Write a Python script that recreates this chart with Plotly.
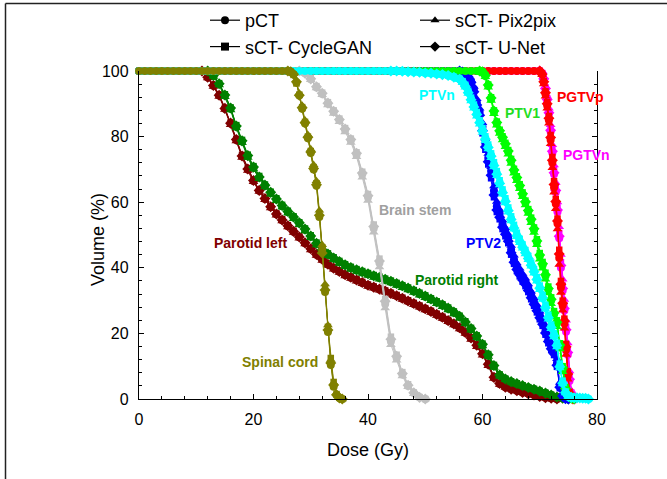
import plotly.graph_objects as go

# ---------------- data ----------------
series_names = ["pCT", "sCT- CycleGAN", "sCT- Pix2pix", "sCT- U-Net"]
series_symbols = ["circle", "square", "triangle-up", "diamond"]
x_ticks = [0, 20, 40, 60, 80]
y_ticks = [0, 20, 40, 60, 80, 100]

# shared 100 % plateau (dose in Gy)
flat_dose = [0, 1, 2, 3, 4, 5, 6, 7, 8, 9, 10, 11, 12, 13, 14, 15, 16, 17, 18, 19,
             20, 21, 22, 23, 24, 25, 26, 27, 28, 29, 30, 31, 32, 33, 34, 35, 36, 37, 38, 39,
             40, 41, 42, 43, 44, 45, 46, 47, 48, 49, 50, 51, 52, 53, 54, 55, 56, 57, 58, 59,
             60, 61, 62, 63, 64, 65, 66, 67, 68, 69, 70]
flat_vol = [100, 100, 100, 100, 100, 100, 100, 100, 100, 100, 100, 100, 100, 100, 100, 100, 100, 100, 100, 100,
            100, 100, 100, 100, 100, 100, 100, 100, 100, 100, 100, 100, 100, 100, 100, 100, 100, 100, 100, 100,
            100, 100, 100, 100, 100, 100, 100, 100, 100, 100, 100, 100, 100, 100, 100, 100, 100, 100, 100, 100,
            100, 100, 100, 100, 100, 100, 100, 100, 100, 100, 100]

# Parotid left
pl_dose = [11, 12, 13, 14, 15, 16, 17, 18, 19, 20, 21, 22, 23, 24, 25, 26, 27, 28, 29, 30,
           31, 32, 33, 34, 35, 36, 37, 38, 39, 40, 41, 42, 43, 44, 45, 46, 47, 48, 49, 50,
           51, 52, 53, 54, 55, 56, 57, 58, 59, 60, 61, 62, 63, 64, 65, 66, 67, 68, 69, 70,
           71, 72, 73]
pl_pct = [100, 98, 95.5, 92.5, 88.5, 84, 79, 74, 70, 66.5, 63.5, 61, 58.5, 56.3, 54.5, 52.7, 51, 49.3, 47.5, 45.7,
          44, 42.5, 41, 39.8, 38.8, 37.8, 37, 36.2, 35.4, 34.6, 34, 33.4, 32.8, 32.1, 31.4, 30.6, 29.8, 29, 28.2, 27.4,
          26.6, 25.7, 24.8, 23.8, 22.8, 21.6, 20.2, 18.5, 16.3, 13.7, 10.5, 6.5, 4.6, 3.6, 3, 2.5, 2, 1.6, 1.2, 0.8,
          0.4, 0.2, 0]
pl_cyc = [100, 98.2, 95.8, 92.8, 88.8, 84.3, 79.3, 74.4, 70.4, 66.8, 63.8, 61.3, 58.8, 56.6, 54.8, 53, 51.3, 49.6, 47.8, 46,
          44.3, 42.8, 41.3, 40.1, 39.1, 38.1, 37.3, 36.5, 35.7, 34.9, 34.3, 33.7, 33.1, 32.4, 31.7, 30.9, 30.1, 29.3, 28.5, 27.7,
          26.9, 26, 25.1, 24.1, 23.1, 21.9, 20.5, 18.8, 16.6, 14, 10.9, 6.9, 4.8, 3.7, 3.1, 2.6, 2.1, 1.7, 1.3, 0.9,
          0.5, 0.2, 0]
pl_pix = [100, 97.8, 95.2, 92.2, 88.2, 83.6, 78.6, 73.6, 69.6, 66.2, 63.2, 60.7, 58.2, 56, 54.2, 52.4, 50.7, 49, 47.2, 45.4,
          43.7, 42.2, 40.7, 39.5, 38.5, 37.5, 36.7, 35.9, 35.1, 34.3, 33.7, 33.1, 32.5, 31.8, 31.1, 30.3, 29.5, 28.7, 27.9, 27.1,
          26.3, 25.4, 24.5, 23.5, 22.5, 21.3, 19.9, 18.1, 15.9, 13.3, 10.1, 6.2, 4.4, 3.5, 2.9, 2.4, 1.9, 1.5, 1.1, 0.7,
          0.3, 0.1, 0]
pl_unet = [100, 98.1, 95.6, 92.6, 88.6, 84.1, 79.1, 74.1, 70.1, 66.6, 63.6, 61.1, 58.6, 56.4, 54.6, 52.8, 51.1, 49.4, 47.6, 45.8,
           44.1, 42.6, 41.1, 39.9, 38.9, 37.9, 37.1, 36.3, 35.5, 34.7, 34.1, 33.5, 32.9, 32.2, 31.5, 30.7, 29.9, 29.1, 28.3, 27.5,
           26.7, 25.8, 24.9, 23.9, 22.9, 21.7, 20.3, 18.6, 16.4, 13.8, 10.6, 6.6, 4.7, 3.6, 3, 2.5, 2, 1.6, 1.2, 0.8,
           0.4, 0.2, 0]

# Parotid right
pr_dose = [12, 13, 14, 15, 16, 17, 18, 19, 20, 21, 22, 23, 24, 25, 26, 27, 28, 29, 30, 31,
           32, 33, 34, 35, 36, 37, 38, 39, 40, 41, 42, 43, 44, 45, 46, 47, 48, 49, 50, 51,
           52, 53, 54, 55, 56, 57, 58, 59, 60, 61, 62, 63, 64, 65, 66, 67, 68, 69, 70, 71,
           72, 73, 74, 75]
pr_pct = [100, 98.5, 96, 92.5, 88.5, 83, 78.5, 74, 70.5, 67.5, 65, 62.8, 60.8, 58.8, 57, 55.3, 53.5, 51.6, 49.5, 47.3,
          45.3, 44, 42.8, 41.7, 40.7, 39.9, 39.2, 38.6, 38, 37.4, 36.9, 36.3, 35.7, 35, 34.3, 33.6, 32.8, 32, 31.2, 30.3,
          29.4, 28.5, 27.5, 26.3, 25, 23.3, 21.3, 19, 16.5, 13.3, 10, 7.2, 6, 5.2, 4.6, 4, 3.5, 3, 2.4, 1.8,
          1.2, 0.6, 0.2, 0]
pr_cyc = [100, 98.7, 96.3, 92.9, 88.9, 83.5, 79, 74.5, 71, 68, 65.4, 63.2, 61.2, 59.2, 57.4, 55.7, 53.9, 52, 49.9, 47.7,
          45.7, 44.4, 43.2, 42.1, 41.1, 40.3, 39.6, 39, 38.4, 37.8, 37.3, 36.7, 36.1, 35.4, 34.7, 34, 33.2, 32.4, 31.6, 30.7,
          29.8, 28.9, 27.9, 26.7, 25.4, 23.7, 21.7, 19.4, 16.9, 13.7, 10.4, 7.5, 6.2, 5.4, 4.8, 4.2, 3.6, 3.1, 2.5, 1.9,
          1.3, 0.7, 0.2, 0]
pr_pix = [100, 98.3, 95.7, 92.1, 88.1, 82.6, 78.1, 73.6, 70.1, 67.1, 64.6, 62.4, 60.4, 58.4, 56.6, 54.9, 53.1, 51.2, 49.1, 46.9,
          44.9, 43.6, 42.4, 41.3, 40.3, 39.5, 38.8, 38.2, 37.6, 37, 36.5, 35.9, 35.3, 34.6, 33.9, 33.2, 32.4, 31.6, 30.8, 29.9,
          29, 28.1, 27.1, 25.9, 24.6, 22.9, 20.9, 18.6, 16.1, 12.9, 9.6, 6.9, 5.8, 5, 4.4, 3.8, 3.3, 2.8, 2.2, 1.6,
          1, 0.5, 0.1, 0]
pr_unet = [100, 98.6, 96.1, 92.7, 88.7, 83.2, 78.7, 74.2, 70.7, 67.7, 65.2, 63, 61, 59, 57.2, 55.5, 53.7, 51.8, 49.7, 47.5,
           45.5, 44.2, 43, 41.9, 40.9, 40.1, 39.4, 38.8, 38.2, 37.6, 37.1, 36.5, 35.9, 35.2, 34.5, 33.8, 33, 32.2, 31.4, 30.5,
           29.6, 28.7, 27.7, 26.5, 25.2, 23.5, 21.5, 19.2, 16.7, 13.5, 10.2, 7.3, 6.1, 5.3, 4.7, 4.1, 3.5, 3, 2.4, 1.8,
           1.2, 0.6, 0.2, 0]

# Spinal cord
sc_dose = [26, 26.5, 27, 27.5, 28, 28.5, 29, 29.5, 30, 30.5, 31, 31.5, 32, 32.5, 33, 33.5, 34, 34.5, 35, 35.5]
sc_pct = [100, 99.8, 99, 96.5, 92.5, 88.5, 84, 79.5, 75, 70, 65, 55.5, 45.5, 32.6, 20.4, 10.4, 3.7, 1.2, 0.3, 0]
sc_cyc = [100, 99.8, 98.8, 96.2, 92.8, 89, 84.5, 80, 75.6, 70.7, 65.8, 56.5, 46.3, 34, 22, 12.5, 5.2, 1.5, 0.4, 0]
sc_pix = [100, 99.9, 99.2, 97, 93.2, 89.5, 85, 80.6, 76.2, 71.4, 66.5, 57.5, 47, 35, 22.5, 12, 5, 1.6, 0.5, 0]
sc_unet = [100, 99.8, 99, 96.7, 92.6, 88.8, 84.2, 79.8, 75.3, 70.3, 65.3, 56, 44.5, 33.2, 21, 11, 4.3, 1.3, 0.3, 0]

# Brain stem
bs_dose = [28, 29, 30, 31, 32, 33, 34, 35, 36, 37, 38, 39, 40, 41, 42, 43, 44, 45, 46, 47, 48, 49, 50]
bs_pct = [100, 99.3, 97.5, 95, 93, 90, 87.5, 85, 82, 78.8, 74.5, 68.5, 61.5, 52, 41.5, 29, 17.5, 12.5, 7.5, 4, 1.8, 0.5, 0]
bs_cyc = [100, 99.4, 97.8, 95.4, 93.4, 90.5, 88, 85.5, 82.6, 79.4, 75.2, 69.3, 62.5, 53.2, 42.8, 30.5, 19, 13.5, 8.2, 4.5, 2, 0.6, 0]
bs_pix = [100, 99.2, 97.3, 94.8, 92.7, 89.6, 87, 84.5, 81.4, 78.2, 73.8, 67.6, 60.5, 50.8, 40.2, 27.7, 16.5, 11.8, 7, 3.7, 1.6, 0.4, 0]
bs_unet = [100, 99.3, 97.6, 95.2, 93.2, 90.2, 87.7, 85.2, 82.3, 79.1, 74.9, 68.9, 62, 52.6, 42.1, 29.8, 18.2, 13, 7.8, 4.2, 1.9, 0.5, 0]

# PTVn
ptvn_dose = [44, 45, 46, 47, 48, 49, 50, 51, 52, 53, 54, 55, 56, 56.5, 57, 57.5, 58, 58.5, 59, 59.5,
             60, 60.5, 61, 61.5, 62, 62.5, 63, 63.5, 64, 64.5, 65, 65.5, 66, 66.5, 67, 67.5, 68, 68.5, 69, 69.5,
             70, 70.5, 71, 71.5, 72, 72.5, 73, 73.5, 74, 74.5, 75, 75.5, 76, 76.5, 77, 77.5, 78, 78.5]
ptvn_pct = [100, 100, 99.9, 99.8, 99.7, 99.6, 99.4, 99.3, 99.1, 98.9, 98.6, 98.2, 97.6, 96.8, 95.5, 93.7, 91.5, 89.3, 87, 84.5,
            82, 79.5, 77, 74.3, 71.5, 68.8, 66, 63.2, 60.5, 57.7, 55, 52.4, 50, 48.2, 46.5, 44.8, 43, 41, 39, 36.6,
            34, 31, 28, 25, 22, 19.5, 16.5, 10, 5, 2, 0.8, 0.5, 0.4, 0.35, 0.3, 0.25, 0.2, 0]
ptvn_cyc = [100, 100, 99.9, 99.8, 99.7, 99.6, 99.4, 99.3, 99.1, 98.9, 98.6, 98.2, 97.6, 96.9, 95.8, 94, 91.9, 89.8, 87.5, 85,
            82.6, 80.1, 77.6, 74.9, 72.2, 69.5, 66.7, 63.9, 61.2, 58.4, 55.7, 53.1, 50.7, 48.8, 47.1, 45.4, 43.6, 41.6, 39.6, 37.2,
            34.6, 31.7, 28.7, 25.7, 22.7, 20.1, 17.2, 10.8, 5.6, 2.3, 0.9, 0.5, 0.4, 0.35, 0.3, 0.25, 0.2, 0]
ptvn_pix = [100, 100, 99.9, 99.8, 99.7, 99.5, 99.3, 99.2, 99, 98.8, 98.5, 98, 97.3, 96.4, 95, 93.1, 90.8, 88.6, 86.2, 83.7,
            81.2, 78.7, 76.2, 73.5, 70.7, 68, 65.2, 62.4, 59.7, 56.9, 54.2, 51.7, 49.4, 47.6, 45.9, 44.2, 42.4, 40.4, 38.3, 35.9,
            33.3, 30.3, 27.3, 24.3, 21.4, 18.9, 15.8, 9.4, 4.5, 1.8, 0.7, 0.5, 0.4, 0.35, 0.3, 0.25, 0.2, 0]
ptvn_unet = [100, 100, 99.9, 99.8, 99.7, 99.6, 99.4, 99.3, 99.1, 98.9, 98.6, 98.1, 97.5, 96.6, 95.3, 93.4, 91.2, 89, 86.7, 84.2,
             81.7, 79.2, 76.7, 74, 71.2, 68.5, 65.7, 62.9, 60.2, 57.4, 54.7, 52.1, 49.8, 48, 46.3, 44.6, 42.8, 40.8, 38.8, 36.4,
             33.8, 30.8, 27.8, 24.8, 21.8, 19.3, 16.3, 9.8, 4.8, 1.9, 0.8, 0.5, 0.4, 0.35, 0.3, 0.25, 0.2, 0]

# PTV1
ptv1_dose = [59.5, 60, 60.5, 61, 61.5, 62, 62.5, 63, 63.5, 64, 64.5, 65, 65.5, 66, 66.5, 67, 67.5, 68, 68.5, 69,
             69.5, 70, 70.5, 71, 71.5, 72, 72.5, 73, 73.5, 74, 74.5, 75, 75.5, 76]
ptv1_pct = [100, 99.8, 98.5, 95.5, 91.5, 87.5, 84, 81.5, 79.5, 77.5, 75.3, 72.5, 69.5, 67.2, 64.8, 62.3, 59.8, 57.2, 54.5, 51.5,
            47.8, 43.5, 40.8, 37.5, 33.3, 30, 25.8, 23, 16, 9, 3, 0.8, 0.2, 0]
ptv1_cyc = [100, 99.8, 98.7, 95.9, 92, 88, 84.6, 82.1, 80.1, 78.1, 75.9, 73.2, 70.2, 67.9, 65.5, 63, 60.5, 57.9, 55.3, 52.3,
            48.7, 44.5, 41.8, 38.5, 34.3, 31, 26.8, 24, 17, 10, 3.6, 1, 0.3, 0]
ptv1_pix = [100, 99.7, 98.2, 95, 91, 86.9, 83.4, 80.9, 78.9, 76.9, 74.6, 71.8, 68.8, 66.5, 64.1, 61.6, 59.1, 56.5, 53.7, 50.7,
            47, 42.6, 39.8, 36.5, 32.3, 29, 24.9, 22, 15.2, 8.3, 2.6, 0.7, 0.2, 0]
ptv1_unet = [100, 99.8, 98.6, 95.7, 91.8, 87.8, 84.3, 81.8, 79.8, 77.8, 75.6, 72.8, 69.8, 67.5, 65.1, 62.6, 60.1, 57.5, 54.8, 51.9,
             48.2, 43.9, 41.2, 37.9, 33.7, 30.4, 26.2, 23.4, 16.5, 9.5, 3.2, 0.9, 0.2, 0]

# PTV2
ptv2_dose = [56, 56.5, 57, 57.5, 58, 58.5, 59, 59.5, 60, 60.5, 61, 61.5, 62, 62.5, 63, 63.5, 64, 64.5, 65, 65.5,
             66, 66.5, 67, 67.5, 68, 68.5, 69, 69.5, 70, 70.5, 71, 71.5, 72, 72.5, 73, 73.5, 74, 74.5, 75]
ptv2_pct = [100, 99.8, 99.3, 98.5, 97, 94.5, 90.5, 87.5, 83, 78, 73.5, 69.5, 63.5, 58.8, 56.5, 53.3, 51, 49, 45.5, 42.5,
            40.2, 38.6, 37, 35.6, 33.8, 31.6, 29.6, 27.6, 25.5, 23.5, 20.8, 18.2, 16, 14.5, 11, 4, 1, 0.2, 0]
ptv2_cyc = [100, 99.7, 99, 98, 96.2, 93.2, 89, 85.8, 81, 76, 71.5, 67.3, 61.5, 57, 54.8, 51.8, 49.6, 47.5, 44, 41.2,
            39, 37.4, 35.8, 34.4, 32.6, 30.4, 28.4, 26.4, 24.3, 22.3, 19.6, 17, 14.9, 13.4, 9.8, 3.3, 0.8, 0.1, 0]
ptv2_pix = [100, 99.8, 99.4, 98.7, 97.4, 95.2, 91.5, 88.6, 84.2, 79.3, 74.8, 70.8, 64.9, 60.2, 57.7, 54.5, 52.2, 50.2, 46.8, 43.8,
            41.4, 39.8, 38.2, 36.8, 35, 32.8, 30.8, 28.8, 26.7, 24.7, 22, 19.4, 17.2, 15.6, 12.2, 5, 1.3, 0.3, 0]
ptv2_unet = [100, 99.7, 99.1, 98.2, 96.5, 93.7, 89.6, 86.5, 81.8, 76.8, 72.3, 68.2, 62.2, 57.6, 55.4, 52.4, 50.2, 48.1, 44.6, 41.7,
             39.5, 37.9, 36.3, 34.9, 33.1, 30.9, 28.9, 26.9, 24.8, 22.8, 20.1, 17.5, 15.3, 13.8, 10.3, 3.6, 0.9, 0.1, 0]

# PGTVp
pgtvp_dose = [70, 70.4, 70.7, 71, 71.3, 71.6, 71.9, 72.2, 72.5, 72.8, 73.1, 73.4, 73.7, 74, 74.3, 74.6, 74.9, 75.2, 75.5, 75.8]
pgtvp_pct = [100, 99, 96.5, 93, 89.5, 85, 79, 72, 64.5, 59.5, 53.5, 43, 34, 28.5, 23, 15, 7, 1.5, 0.3, 0]
pgtvp_cyc = [100, 99.2, 97, 93.8, 90.5, 86.3, 80.5, 73.8, 66.4, 61, 55, 45.5, 36, 30, 24.5, 16.8, 8.5, 2.2, 0.5, 0]
pgtvp_pix = [100, 98.8, 96, 92.3, 88.6, 84, 77.8, 70.5, 63, 58, 51.8, 41, 32.4, 27, 21.5, 13.5, 6, 1.2, 0.2, 0]
pgtvp_unet = [100, 99, 96.7, 93.4, 90, 85.6, 79.7, 72.8, 65.4, 60.2, 54.3, 44.2, 35, 29.2, 23.8, 15.9, 7.6, 1.8, 0.4, 0]

# PGTVn
pgtvn_dose = [70, 70.4, 70.7, 71, 71.3, 71.6, 71.9, 72.2, 72.5, 72.8, 73.1, 73.4, 73.7, 74, 74.3, 74.6, 74.9, 75.2, 75.5, 75.8, 76.1]
pgtvn_pct = [100, 99.3, 97.5, 94.5, 91, 87, 81.5, 75, 68.5, 63, 57, 49, 40, 33, 27, 20.5, 13.5, 5.5, 1.5, 0.3, 0]
pgtvn_cyc = [100, 99.4, 97.8, 95, 91.7, 87.8, 82.5, 76.2, 69.8, 64.3, 58.4, 50.6, 41.7, 34.6, 28.5, 22, 15, 6.8, 2, 0.4, 0]
pgtvn_pix = [100, 99.5, 98, 95.4, 92.3, 88.6, 83.6, 77.5, 71.3, 66, 60, 52.5, 44, 36.5, 30.3, 24, 17, 8.5, 2.6, 0.5, 0]
pgtvn_unet = [100, 99.3, 97.6, 94.7, 91.3, 87.3, 81.9, 75.5, 69, 63.6, 57.6, 49.6, 40.7, 33.7, 27.6, 21.1, 14.2, 6, 1.7, 0.3, 0]

# ---------------- structures (draw order: first = bottom) ----------------
structures = [
    dict(name="PGTVn", color="#FF00FF", n_flat=70, dose=pgtvn_dose, pct=pgtvn_pct, cyc=pgtvn_cyc, pix=pgtvn_pix, unet=pgtvn_unet),
    dict(name="PGTVp", color="#FF0000", n_flat=70, dose=pgtvp_dose, pct=pgtvp_pct, cyc=pgtvp_cyc, pix=pgtvp_pix, unet=pgtvp_unet),
    dict(name="Parotid left", color="#800000", n_flat=11, dose=pl_dose, pct=pl_pct, cyc=pl_cyc, pix=pl_pix, unet=pl_unet),
    dict(name="Parotid right", color="#008000", n_flat=12, dose=pr_dose, pct=pr_pct, cyc=pr_cyc, pix=pr_pix, unet=pr_unet),
    dict(name="PTV2", color="#0000FF", n_flat=56, dose=ptv2_dose, pct=ptv2_pct, cyc=ptv2_cyc, pix=ptv2_pix, unet=ptv2_unet),
    dict(name="PTV1", color="#00FF00", n_flat=60, dose=ptv1_dose, pct=ptv1_pct, cyc=ptv1_cyc, pix=ptv1_pix, unet=ptv1_unet),
    dict(name="Brain stem", color="#C0C0C0", n_flat=28, dose=bs_dose, pct=bs_pct, cyc=bs_cyc, pix=bs_pix, unet=bs_unet),
    dict(name="PTVn", color="#00FFFF", n_flat=44, dose=ptvn_dose, pct=ptvn_pct, cyc=ptvn_cyc, pix=ptvn_pix, unet=ptvn_unet),
    dict(name="Spinal cord", color="#808000", n_flat=26, dose=sc_dose, pct=sc_pct, cyc=sc_cyc, pix=sc_pix, unet=sc_unet),
]

for s in structures:
    for k in ("pct", "cyc", "pix", "unet"):
        assert len(s[k]) == len(s["dose"]), (s["name"], k, len(s[k]), len(s["dose"]))

# labels: text, color, dose, volume
label_text = ["PTVn", "PTV1", "PGTVp", "PGTVn", "Brain stem", "PTV2", "Parotid left", "Parotid right", "Spinal cord"]
label_color = ["#00FFFF", "#22DD22", "#FF0000", "#FF00FF", "#A0A0A0", "#0000FF", "#800000", "#008000", "#808000"]
label_dose = [52.1, 66.9, 77.2, 78.1, 48.2, 60.1, 19.4, 55.5, 24.6]
label_vol = [92.7, 87.2, 92.1, 74.4, 57.6, 47.6, 47.6, 36.3, 11.3]

FONT = "Liberation Sans, Arial, sans-serif"

fig = go.Figure()
draw_series = [("pix", "triangle-up", 8.5), ("cyc", "square", 6.5), ("unet", "diamond", 8.5), ("pct", "circle", 8)]
for s in structures:
    c = s["color"]
    for key, sym, sz in draw_series:
        x = list(s["dose"])
        y = list(s[key])
        if key == "pct":
            x = flat_dose[:s["n_flat"]] + x
            y = flat_vol[:s["n_flat"]] + y
        fig.add_trace(go.Scatter(
            x=x, y=y, mode="lines+markers",
            line=dict(color=c, width=1),
            marker=dict(symbol=sym, size=sz, color=c, line=dict(width=0)),
            showlegend=False, cliponaxis=False, hoverinfo="skip"))

for i, (nm, sym) in enumerate(zip(series_names, series_symbols)):
    fig.add_trace(go.Scatter(
        x=[None], y=[None], mode="lines+markers", name=nm,
        line=dict(color="black", width=1.2),
        marker=dict(symbol=sym, size=8, color="black"),
        legend="legend" if i < 2 else "legend2"))

for t, c, d, v in zip(label_text, label_color, label_dose, label_vol):
    fig.add_annotation(x=d, y=v, xref="x", yref="y", text="<b>" + t + "</b>", showarrow=False,
                       font=dict(family=FONT, size=14, color=c))

# y-axis title (placed explicitly)
fig.add_annotation(x=(86 - 139) / 458, y=(399 - 240) / 328, xref="paper", yref="paper",
                   text="Volume (%)", textangle=-90, showarrow=False,
                   font=dict(family=FONT, size=18, color="black"))

# outer frame (left and top edges)
fx = (5.5 - 139) / 458
fy = 1 + (71 - 3.5) / 328
fig.add_shape(type="line", xref="paper", yref="paper", x0=fx, x1=fx, y0=-0.3, y1=fy,
              line=dict(color="#222222", width=1.5))
fig.add_shape(type="line", xref="paper", yref="paper", x0=fx, x1=1.2, y0=fy, y1=fy,
              line=dict(color="#222222", width=1.5))

legend_common = dict(xref="container", yref="container", xanchor="left", yanchor="top",
                     bgcolor="rgba(0,0,0,0)",
                     font=dict(family=FONT, size=18, color="black"), tracegroupgap=0)
fig.update_layout(
    width=667, height=479,
    margin=dict(l=139, r=70, t=71, b=80, autoexpand=False),
    paper_bgcolor="white", plot_bgcolor="white",
    font=dict(family=FONT, size=16, color="black"),
    legend=dict(x=205 / 667, y=1 - 2 / 479, **legend_common),
    legend2=dict(x=415 / 667, y=1 - 2 / 479, **legend_common),
    xaxis=dict(range=[0, 80], tickvals=x_ticks, ticks="inside", ticklen=5, tickwidth=1, tickcolor="black",
               showline=True, linecolor="black", linewidth=1.3, showgrid=False, zeroline=False,
               minor=dict(dtick=4, ticks="inside", ticklen=3, tickcolor="black", showgrid=False),
               tickfont=dict(family=FONT, size=16, color="black"), ticklabelstandoff=6,
               title=dict(text="Dose (Gy)", font=dict(family=FONT, size=18, color="black"), standoff=16)),
    yaxis=dict(range=[0, 100], tickvals=y_ticks, ticks="inside", ticklen=5, tickwidth=1, tickcolor="black",
               showline=True, linecolor="black", linewidth=1.3, mirror="ticks", showgrid=False, zeroline=False,
               minor=dict(dtick=4, ticks="inside", ticklen=3, tickcolor="black", showgrid=False),
               tickfont=dict(family=FONT, size=16, color="black"), ticklabelstandoff=6),
)

fig.write_html("out.html", config={"displayModeBar": False},
               post_script="document.body.style.margin='0px';document.body.style.overflow='hidden';")
